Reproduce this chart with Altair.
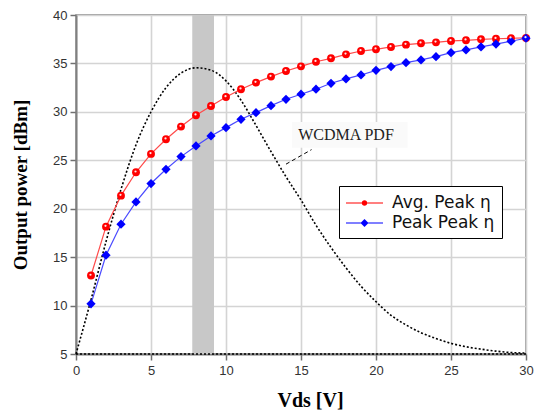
import altair as alt
import pandas as pd

# ---------------- data ----------------
vds = list(range(1, 31))
avg_peak = [13.1, 18.15, 21.35, 23.76, 25.66, 27.17, 28.48, 29.65, 30.6, 31.54,
            32.33, 33.02, 33.64, 34.22, 34.7, 35.17, 35.53, 35.94, 36.28, 36.46,
            36.7, 36.94, 37.08, 37.18, 37.32, 37.39, 37.49, 37.55, 37.6, 37.63]
peak_peak = [10.18, 15.2, 18.4, 20.7, 22.6, 24.07, 25.38, 26.48, 27.51, 28.37,
             29.23, 29.92, 30.64, 31.3, 31.82, 32.34, 32.95, 33.4, 33.81, 34.29,
             34.67, 35.08, 35.36, 35.7, 36.11, 36.39, 36.7, 37.0, 37.29, 37.6]
series_names = ["Avg. Peak η", "Peak Peak η"]
series_colors = ["#ff0000", "#0000ff"]
line_colors = ["#ff4a4a", "#4a4aff"]

pdf_x = [0, 1, 2, 3, 4, 5, 6, 7, 8, 9, 10, 11, 12, 13, 14, 15, 16, 17, 18, 19,
         20, 21, 22, 23, 24, 25, 26, 27, 28, 29, 30]
pdf_y = [5.0, 10.6, 16.6, 22.0, 26.6, 30.0, 32.5, 34.0, 34.55, 34.3, 33.2, 31.2,
         28.6, 25.9, 23.3, 20.9, 18.3, 16.0, 13.9, 12.0, 10.4, 9.0, 8.0, 7.2,
         6.6, 6.1, 5.75, 5.5, 5.3, 5.15, 5.1]

band_start, band_end = 7.75, 9.2
x_ticks = [i * 2.5 for i in range(13)]
y_ticks = [5 + i * 2.5 for i in range(15)]

annot_text = "WCDMA PDF"
annot_pos = (18.0, 27.6)
annot_box = (14.4, 22.1, 26.3, 28.95)
leader = (14.0, 24.6, 15.7, 26.1)

# ---------------- tables ----------------
df = pd.DataFrame({
    "vds": vds * 2,
    "pout": avg_peak + peak_peak,
    "series": [series_names[0]] * len(vds) + [series_names[1]] * len(vds),
})
pdf_df = pd.DataFrame({"vds": pdf_x, "p": pdf_y})
band_df = pd.DataFrame({"x": [band_start], "x2": [band_end], "y": [5], "y2": [40]})
base_df = pd.DataFrame({"x": [0, 30], "y": [5, 5]})
text_df = pd.DataFrame({"x": [annot_pos[0]], "y": [annot_pos[1]], "t": [annot_text]})
box_df = pd.DataFrame({"x": [annot_box[0]], "x2": [annot_box[1]],
                       "y": [annot_box[2]], "y2": [annot_box[3]]})
leader_df = pd.DataFrame({"x": [leader[0]], "y": [leader[1]],
                          "x2": [leader[2]], "y2": [leader[3]]})

# ---------------- scales / axes ----------------
xscale = alt.Scale(domain=[0, 30], nice=False, zero=False)
yscale = alt.Scale(domain=[5, 40], nice=False, zero=False)

minor_test = "datum.value % 5 !== 0"
common_axis = dict(
    labelExpr="datum.value % 5 === 0 ? datum.label : ''",
    gridOpacity={"condition": {"test": minor_test, "value": 0}, "value": 1},
    tickSize={"condition": {"test": minor_test, "value": 3}, "value": 6},
    labelFlush=False,
    labelFont="Liberation Sans",
    labelFontSize=13,
    labelColor="#333333",
    titleFont="Liberation Serif",
    titleFontWeight="bold",
    titleColor="black",
    domainColor="#808080",
    domainWidth=2,
    tickColor="#707070",
    tickWidth=1.5,
    gridColor="#d4d4d4",
    gridWidth=1.6,
)
xaxis = alt.Axis(values=x_ticks, title="Vds [V]", titleFontSize=20,
                 titlePadding=13, labelPadding=4, titleX=234, **common_axis)
yaxis = alt.Axis(values=y_ticks, title="Output power [dBm]", titleFontSize=19,
                 titlePadding=22, labelPadding=3, **common_axis)

X = alt.X("vds:Q", scale=xscale, axis=xaxis)
Y = alt.Y("pout:Q", scale=yscale, axis=yaxis)

band = alt.Chart(band_df).mark_rect(color="#c8c8c8").encode(
    x=alt.X("x:Q", scale=xscale, axis=xaxis), x2="x2",
    y=alt.Y("y:Q", scale=yscale, axis=yaxis), y2="y2")

box = alt.Chart(box_df).mark_rect(color="#fafafa").encode(
    x="x:Q", x2="x2", y="y:Q", y2="y2")

pdf_line = alt.Chart(pdf_df).mark_line(
    color="black", strokeWidth=1.6, strokeDash=[2, 2], interpolate="monotone"
).encode(x="vds:Q", y="p:Q")

base_line = alt.Chart(base_df).mark_line(
    color="black", strokeWidth=1.6, strokeDash=[2, 2]
).encode(x="x:Q", y="y:Q")

lines = alt.Chart(df).mark_line(strokeWidth=1.2).encode(
    x=X, y=Y,
    color=alt.Color("series:N", scale=alt.Scale(domain=series_names, range=line_colors),
                    legend=None))

points = alt.Chart(df).mark_point(filled=True, opacity=1, strokeWidth=0).encode(
    x=X, y=Y,
    color=alt.Color("series:N", scale=alt.Scale(domain=series_names, range=series_colors),
                    legend=None),
    shape=alt.Shape("series:N", scale=alt.Scale(domain=series_names,
                                                range=["circle", "diamond"]),
                    legend=None),
    size=alt.Size("series:N", scale=alt.Scale(domain=series_names, range=[62, 85]),
                  legend=None))

highlights = alt.Chart(df).transform_filter(
    alt.datum.series == series_names[0]
).mark_circle(color="white", size=5, opacity=0.9, xOffset=-0.5, yOffset=-0.8).encode(
    x=X, y=Y)

text = alt.Chart(text_df).mark_text(
    font="Liberation Serif", fontSize=16, color="#222222"
).encode(x="x:Q", y="y:Q", text="t:N")

leader_line = alt.Chart(leader_df).mark_rule(
    color="black", strokeWidth=1, strokeDash=[4, 3]
).encode(x="x:Q", y="y:Q", x2="x2", y2="y2")

# legend symbols: line + marker, as custom paths
path_circle = ("M-1,-0.06 L0.57,-0.06 L0.57,0.06 L-1,0.06 Z "
               "M1.13,-0.06 L2.7,-0.06 L2.7,0.06 L1.13,0.06 Z "
               "M1.13,0 A0.28,0.28 0 1,1 0.57,0 A0.28,0.28 0 1,1 1.13,0 Z")
path_diamond = ("M-1,-0.06 L0.47,-0.06 L0.47,0.06 L-1,0.06 Z "
                "M1.23,-0.06 L2.7,-0.06 L2.7,0.06 L1.23,0.06 Z "
                "M0.85,-0.4 L1.25,0 L0.85,0.4 L0.45,0 Z")
legend_def = alt.Legend(
    title=None, orient="none", legendX=263, legendY=171,
    labelFont="DejaVu Sans", labelFontSize=17, labelColor="#111111",
    fillColor="white", strokeColor="black",
    padding=7, rowPadding=2, symbolSize=400, symbolStrokeWidth=0,
    labelOffset=26, symbolOpacity=1, cornerRadius=0, labelLimit=300,
)
legend_layer = alt.Chart(df).transform_filter("false").mark_point(
    filled=True, size=400, strokeWidth=0
).encode(
    x=X, y=Y,
    color=alt.Color("series:N", scale=alt.Scale(domain=series_names, range=series_colors),
                    legend=legend_def),
    shape=alt.Shape("series:N", scale=alt.Scale(domain=series_names,
                                                range=[path_circle, path_diamond]),
                    legend=legend_def),
)

chart = alt.layer(
    band, box, pdf_line, base_line, lines, points, highlights, text, leader_line,
    legend_layer
).resolve_scale(
    color="independent", shape="independent", size="independent"
).properties(
    width=450, height=339,
    autosize=alt.AutoSizeParams(type="none"),
    padding={"left": 68, "top": 7, "right": 14, "bottom": 59},
).configure_view(
    stroke="#808080", strokeWidth=1.5
)

chart.save("out.html", embed_options={"renderer": "svg", "actions": False})
